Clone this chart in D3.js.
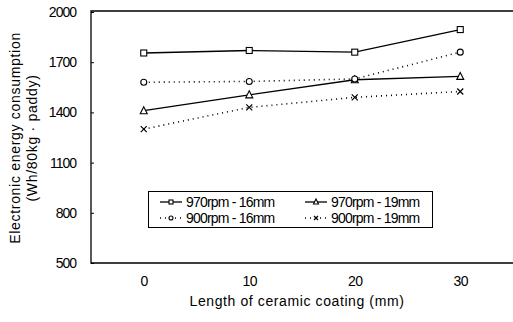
<!DOCTYPE html>
<html>
<head>
<meta charset="utf-8">
<script src="https://cdn.jsdelivr.net/npm/d3@7"></script>
<style>
  body { margin: 0; background: #fff; }
  svg { font-family: "Liberation Sans", Arial, sans-serif; }
</style>
</head>
<body>
<svg id="chart" width="513" height="322"></svg>
<script>
const coatingLengths = [0, 10, 20, 30];
const yTicks = [500, 800, 1100, 1400, 1700, 2000];
const seriesNames = ['970rpm - 16mm', '970rpm - 19mm', '900rpm - 16mm', '900rpm - 19mm'];
const rpm970mm16 = [1755, 1770, 1760, 1895];
const rpm970mm19 = [1410, 1505, 1595, 1615];
const rpm900mm16 = [1580, 1585, 1600, 1760];
const rpm900mm19 = [1300, 1430, 1490, 1525];

const series = [
  { name: seriesNames[0], values: rpm970mm16, dash: null, marker: 'square' },
  { name: seriesNames[1], values: rpm970mm19, dash: null, marker: 'triangle' },
  { name: seriesNames[2], values: rpm900mm16, dash: '1,4', marker: 'circle' },
  { name: seriesNames[3], values: rpm900mm19, dash: '1,4', marker: 'cross' }
];

const svg = d3.select('#chart');
const plotLeft = 91, plotRight = 513, plotTop = 12, plotBottom = 263;

const x = d3.scaleLinear().domain([-5, 35]).range([plotLeft, plotRight]);
const y = d3.scaleLinear().domain([500, 2000]).range([plotBottom, plotTop]);

// frame: left, top, bottom
svg.append('path')
  .attr('d', `M${plotRight},${plotTop - 1}H${plotLeft}V${plotBottom}H${plotRight}`)
  .attr('fill', 'none').attr('stroke', '#000').attr('stroke-width', 1.3);

// y axis
const yAxis = svg.append('g').attr('transform', `translate(${plotLeft},0)`)
  .call(d3.axisLeft(y).tickValues(yTicks).tickSize(-3).tickPadding(15).tickFormat(d3.format('d')));
yAxis.select('.domain').remove();
yAxis.selectAll('text').attr('font-size', 14).attr('letter-spacing', '-1px').attr('fill', '#000');

// x axis labels
const xAxis = svg.append('g').attr('transform', `translate(0,${plotBottom})`)
  .call(d3.axisBottom(x).tickValues(coatingLengths).tickSize(0).tickPadding(13));
xAxis.select('.domain').remove();
xAxis.selectAll('text').attr('font-size', 14).attr('letter-spacing', '-0.5px').attr('fill', '#000');

// titles
svg.append('text').attr('x', 297).attr('y', 306).attr('text-anchor', 'middle')
  .attr('font-size', 14).attr('letter-spacing', '0.6px')
  .text('Length of ceramic coating (mm)');
const yt = svg.append('text').attr('transform', 'translate(20,138) rotate(-90)')
  .attr('text-anchor', 'middle').attr('font-size', 14).attr('letter-spacing', '0.7px');
yt.append('tspan').attr('x', 0).attr('dy', 0).text('Electronic energy consumption');
yt.append('tspan').attr('x', 0).attr('dy', 17).text('(Wh/80kg · paddy)');

function drawMarker(g, type, cx, cy, s) {
  if (type === 'square') {
    g.append('rect').attr('x', cx - s).attr('y', cy - s).attr('width', 2 * s).attr('height', 2 * s)
      .attr('fill', '#fff').attr('stroke', '#000').attr('stroke-width', 1.1);
  } else if (type === 'circle') {
    g.append('circle').attr('cx', cx).attr('cy', cy).attr('r', s)
      .attr('fill', '#fff').attr('stroke', '#000').attr('stroke-width', 1.1);
  } else if (type === 'triangle') {
    g.append('path').attr('d', `M${cx},${cy - s - 1}L${cx + s + 0.5},${cy + s}L${cx - s - 0.5},${cy + s}Z`)
      .attr('fill', '#fff').attr('stroke', '#000').attr('stroke-width', 1.1);
  } else {
    g.append('path').attr('d', `M${cx - s},${cy - s}L${cx + s},${cy + s}M${cx + s},${cy - s}L${cx - s},${cy + s}`)
      .attr('stroke', '#000').attr('stroke-width', 1.2);
  }
}

const line = d3.line().x((d, i) => x(coatingLengths[i])).y(d => y(d));

series.forEach(s => {
  svg.append('path').datum(s.values).attr('d', line)
    .attr('fill', 'none').attr('stroke', '#000')
    .attr('stroke-width', s.dash ? 1.6 : 1.3)
    .attr('stroke-dasharray', s.dash);
  const g = svg.append('g');
  s.values.forEach((v, i) => drawMarker(g, s.marker, x(coatingLengths[i]), y(v), 3));
});

// legend
const lg = svg.append('g');
lg.append('rect').attr('x', 148.5).attr('y', 191.5).attr('width', 284).attr('height', 36)
  .attr('fill', '#fff').attr('stroke', '#000').attr('stroke-width', 1);
series.forEach((s, i) => {
  const col = i % 2, row = Math.floor(i / 2);
  const lx = 160 + col * 145, ly = 202 + row * 16;
  lg.append('line').attr('x1', lx).attr('x2', lx + 22).attr('y1', ly).attr('y2', ly)
    .attr('stroke', '#000').attr('stroke-width', s.dash ? 1.5 : 1.3).attr('stroke-dasharray', s.dash);
  drawMarker(lg, s.marker, lx + 11, ly, 2);
  lg.append('text').attr('x', lx + 26).attr('y', ly + 5).attr('font-size', 14)
    .attr('letter-spacing', '-0.8px').text(s.name);
});
</script>
</body>
</html>
